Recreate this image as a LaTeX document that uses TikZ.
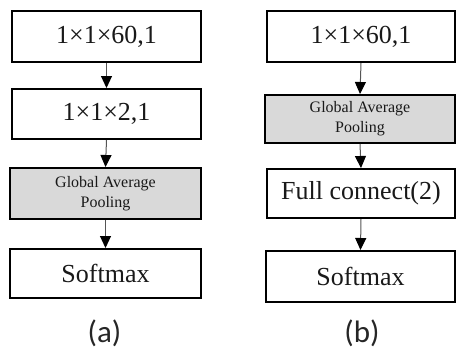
\documentclass[tikz,border=0pt]{standalone}
\usepackage{fontspec}
\setmainfont{Liberation Serif}
\newfontfamily\labelfont{Carlito}
\usetikzlibrary{arrows.meta}
\definecolor{poolgray}{HTML}{D9D9D9}
\definecolor{linkgray}{HTML}{555555}
\tikzset{
  layer/.style={draw=black, line width=2pt, fill=white, inner sep=0pt,
    font=\fontsize{26}{30}\selectfont, text=black!90},
  pool/.style={layer, fill=poolgray, align=center,
    font=\fontsize{16}{20}\selectfont},
  link/.style={draw=linkgray, line width=1pt,
    -{Triangle[width=11pt,length=12pt,color=black,fill=black]}},
  caption/.style={font=\labelfont\fontsize{31}{34}\selectfont, text=black!85}
}
\begin{document}
\begin{tikzpicture}[x=1pt,y=-1pt]
  \useasboundingbox (0,0) rectangle (456,351);
  % column (a)
  \node[layer, minimum width=189pt, minimum height=51pt] (a1) at (106.5,36.5) {1×1×60,1};
  \node[layer, minimum width=189pt, minimum height=50pt] (a2) at (106.5,114) {1×1×2,1};
  \node[pool, minimum width=191pt, minimum height=51pt] (a3) at (105.5,193.5) {Global Average\\Pooling};
  \node[layer, minimum width=191pt, minimum height=49pt] (a4) at (105.5,273.5) {Softmax};
  \node[caption] (la) at (104.5,333) {(a)};
  % column (b)
  \node[layer, minimum width=188pt, minimum height=51pt] (b1) at (361,36.5) {1×1×60,1};
  \node[pool, minimum width=190pt, minimum height=48pt] (b2) at (360,119) {Global Average\\Pooling};
  \node[layer, minimum width=188pt, minimum height=49pt] (b3) at (361,193.5) {Full connect(2)};
  \node[layer, minimum width=189pt, minimum height=51pt] (b4) at (360.5,276.5) {Softmax};
  \node[caption] (lb) at (362,333) {(b)};
  % connectors
  \draw[link] (a1.south) -- (a2.north);
  \draw[link] (a2.south) -- (a3.north);
  \draw[link] (a3.south) -- (a4.north);
  \draw[link] (b1.south) -- (b2.north);
  \draw[link] (b2.south) -- (b3.north);
  \draw[link] (b3.south) -- (b4.north);
\end{tikzpicture}
\end{document}
